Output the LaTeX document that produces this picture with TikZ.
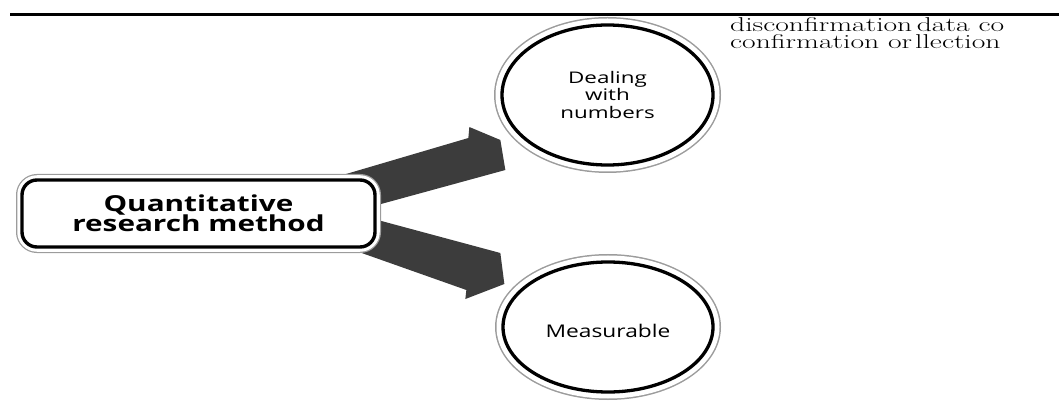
\documentclass[tikz,border=0pt]{standalone}
\usepackage{fontspec}
\usepackage{graphicx}
\usepackage{xcolor}
\usetikzlibrary{shapes.geometric,backgrounds,calc}

\newfontfamily\opensans{Open Sans}
\definecolor{arrowgray}{HTML}{3C3C3C}
\definecolor{ringgray}{HTML}{9C9C9C}

\newcommand{\stretchx}[2]{\scalebox{#1}[1]{#2}}

\tikzset{
  methodbox/.style={rectangle, rounded corners=15pt, minimum width=353pt, minimum height=67pt,
    inner sep=0pt, draw=black, line width=3.4pt, fill=white,
    preaction={draw=ringgray, line width=12pt},
    preaction={draw=white, line width=9.5pt},
    font=\opensans\bfseries\fontsize{22}{20}\selectfont, align=center},
  ringellipse/.style={ellipse, inner sep=0pt, draw=black, line width=3.3pt, fill=white,
    preaction={draw=ringgray, line width=16pt},
    preaction={draw=white, line width=13pt},
    font=\opensans\fontsize{16}{17.5}\selectfont, align=center},
  blockarrow/.style={fill=arrowgray},
  serifnote/.style={inner sep=0pt, anchor=base west, font=\fontsize{20}{17}\selectfont}
}

\begin{document}
\begin{tikzpicture}[x=1pt, y=-1pt]
\lineskiplimit=-100pt
\useasboundingbox (0,0) rectangle (1059,403);

% Top rule
\draw[line width=3.5pt] (10,14.5) -- (1059,14.5);

% Main box and the two ellipses
\node[methodbox] (method) at (198.5,213.5) {\stretchx{1.35}{Quantitative}\\\stretchx{1.35}{research method}};
\node[ringellipse, minimum width=211pt, minimum height=140pt] (deal) at (607.5,95)
  {\stretchx{1.4}{Dealing}\\\stretchx{1.4}{with}\\\stretchx{1.4}{numbers}};
\node[ringellipse, minimum width=210pt, minimum height=130pt, text height=22pt,
  font=\opensans\fontsize{17.5}{19}\selectfont] (meas) at (608,327) {\stretchx{1.3}{Measurable}};

% Block arrows
\begin{scope}[on background layer]
\fill[blockarrow] ($(method.north east)+(-35,-3)$) -- ($(deal.west)+(-32,43)$)
  -- ($(deal.west)+(-31,32)$) -- ($(deal.west)+(0,45)$) -- ($(deal.west)+(5,75)$)
  -- ($(method.north east)+(-15,31)$) -- cycle;
\fill[blockarrow] ($(method.south east)+(-15,-33)$) -- ($(meas.west)+(-1,-74)$)
  -- ($(meas.west)+(3,-43)$) -- ($(meas.west)+(-36,-28)$) -- ($(meas.west)+(-35,-37)$)
  -- ($(method.south east)+(-30,-1)$) -- cycle;
\end{scope}

% Note at top right
\node[serifnote] (noteA) at (730,32) {\stretchx{1.48}{disconfirmation\hspace{3pt}data co}};
\node[serifnote] (noteB) at ([yshift=-17pt]noteA.base west) {\stretchx{1.48}{confirmation or\hspace{2pt}llection}};

\end{tikzpicture}
\end{document}
